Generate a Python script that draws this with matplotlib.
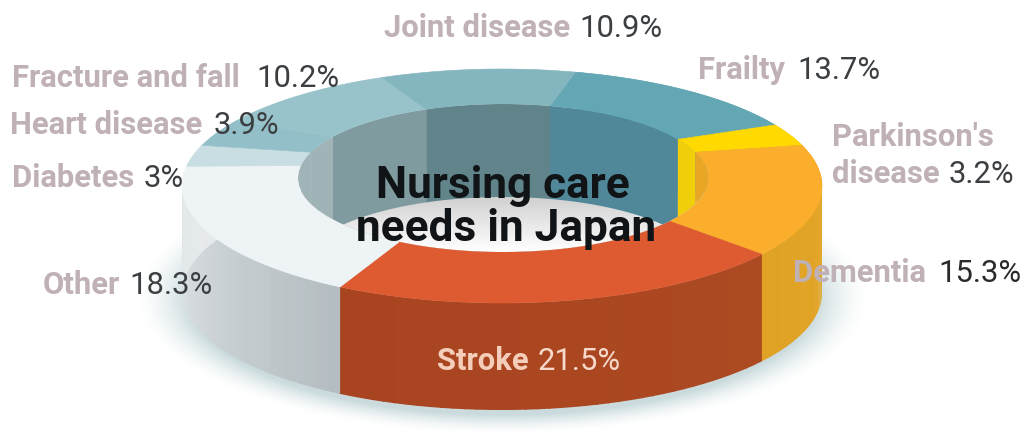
"""Nursing care needs in Japan: a 3D-style ring drawn from the share of each cause."""
import numpy as np
import matplotlib

matplotlib.use("Agg")
import matplotlib.pyplot as plt
from matplotlib.colors import to_rgb
from matplotlib.patches import Ellipse, Polygon

# Clockwise from the top of the ring
causes = ["Frailty", "Parkinson's disease", "Dementia", "Stroke", "Other",
          "Diabetes", "Heart disease", "Fracture and fall", "Joint disease"]
shares = [13.7, 3.2, 15.3, 21.5, 18.3, 3, 3.9, 10.2, 10.9]

top_colors = ["#64A7B4", "#FFD900", "#FAAE2B", "#DE5A30", "#EEF3F5",
              "#C9DEE2", "#93BFC8", "#98C3CB", "#84B6BF"]
side_colors = [("#64A7B4", "#64A7B4"), ("#E8B020", "#E8B020"), ("#E6A82A", "#DFA225"),
               ("#AC4A22", "#A84420"), ("#B4BDC1", "#E6EAEC"), ("#E6EAEC", "#E6EAEC"),
               ("#E6EAEC", "#E6EAEC"), ("#E6EAEC", "#E6EAEC"), ("#E6EAEC", "#E6EAEC")]
wall_colors = ["#50889A", "#F0CE08", "#E9A524", "#C05030", "#A0B3B6",
               "#A0B3B6", "#A0B3B6", "#7F9BA0", "#608489"]

label_name_color = "#BFB1B6"
label_value_color = "#3C3F42"

START_ANGLE = 282.0
CX, CY, RX, RY = 502, 186, 320, 117
HOLE_CX, HOLE_CY, HOLE_RX, HOLE_RY = 503, 178, 205, 74
DEPTH = 107
WALL_DEPTH = 93
FONT = "Roboto"
LABEL_SIZE = 22.3
TITLE_SIZE = 31.8


def view_angle(theta):
    # the near side of the ring opens up a little under the tilted view
    return theta + 2.5 - 6 * np.cos(np.radians(theta))


def arc(cx, cy, rx, ry, a0, a1, n=60):
    t = np.radians(np.linspace(a0, a1, n))
    return np.column_stack([cx + rx * np.cos(t), cy + ry * np.sin(t)])


fig = plt.figure(figsize=(10.26, 4.36), dpi=100)
ax = fig.add_axes([0, 0, 1, 1])
ax.set_xlim(0, 1026)
ax.set_ylim(436, 0)
ax.axis("off")

# soft teal shadow below the ring
yy, xx = np.mgrid[0:436, 0:1026]
dist = np.sqrt(((xx - CX) / (RX + 4)) ** 2 + ((yy - CY - DEPTH - 4) / (RY + 4)) ** 2)
alpha = np.clip((1.13 - dist) / 0.16, 0, 1) ** 1.6 * 0.55
shadow = np.zeros((436, 1026, 4))
shadow[..., :3] = to_rgb("#9FBDC2")
shadow[..., 3] = alpha
ax.imshow(shadow, extent=(0, 1026, 436, 0), zorder=1, aspect="auto")

edges = START_ANGLE + np.concatenate([[0], np.cumsum(shares)]) * 3.6
ends = view_angle(edges)

# outer side, drawn as thin strips so each slice can shade along its length
for i in range(len(shares)):
    a0, a1 = ends[i], ends[i + 1]
    steps = np.linspace(a0, a1, 40)
    c0, c1 = np.array(to_rgb(side_colors[i][0])), np.array(to_rgb(side_colors[i][1]))
    for k in range(len(steps) - 1):
        top = arc(CX, CY, RX, RY, steps[k], steps[k + 1] + 0.3, 4)
        bottom = top[::-1] + [0, DEPTH]
        col = c0 + (c1 - c0) * k / (len(steps) - 2)
        ax.add_patch(Polygon(np.vstack([top, bottom]), fc=col, ec="none", zorder=2))

# top face
for i in range(len(shares)):
    outer = arc(CX, CY, RX, RY, ends[i], ends[i + 1])
    inner = arc(HOLE_CX, HOLE_CY, HOLE_RX, HOLE_RY, ends[i + 1], ends[i])
    ax.add_patch(Polygon(np.vstack([outer, inner]), fc=top_colors[i], ec=top_colors[i],
                         lw=0.4, zorder=3))

# hole: pale floor, then the inner wall of every slice clipped to the opening
hole = Ellipse((HOLE_CX, HOLE_CY), 2 * HOLE_RX, 2 * HOLE_RY, fc="none", ec="none", zorder=4)
ax.add_patch(hole)
floor = np.linspace(0.80, 1.0, 64).reshape(-1, 1)
im = ax.imshow(floor, extent=(HOLE_CX - HOLE_RX, HOLE_CX + HOLE_RX, HOLE_CY + HOLE_RY, HOLE_CY + 14),
               cmap="gray", vmin=0, vmax=1, zorder=4, aspect="auto")
im.set_clip_path(hole)
ax.set_xlim(0, 1026)
ax.set_ylim(436, 0)

for i in range(len(shares)):
    top = arc(HOLE_CX, HOLE_CY, HOLE_RX, HOLE_RY, ends[i], ends[i + 1])
    bottom = top[::-1] + [0, WALL_DEPTH]
    wall = Polygon(np.vstack([top, bottom]), fc=wall_colors[i], ec="none", zorder=5)
    ax.add_patch(wall)
    wall.set_clip_path(hole)


def label(lines, value, x, ys, name_color=label_name_color, value_color=label_value_color, gap=9):
    renderer = fig.canvas.get_renderer()
    for line, y in zip(lines[:-1], ys[:-1]):
        ax.text(x, y, line, color=name_color, fontsize=LABEL_SIZE, fontweight="bold",
                family=FONT, va="baseline", zorder=8)
    name = ax.text(x, ys[-1], lines[-1], color=name_color, fontsize=LABEL_SIZE, fontweight="bold",
                   family=FONT, va="baseline", zorder=8)
    right = name.get_window_extent(renderer).x1
    ax.text(right + gap, ys[-1], value, color=value_color, fontsize=LABEL_SIZE,
            family=FONT, va="baseline", zorder=8)


label(["Joint disease"], f"{shares[8]}%", 384, [37])
label(["Frailty"], f"{shares[0]}%", 698, [79], gap=12)
label(["Fracture and fall"], f"{shares[7]}%", 12, [87], gap=17)
label(["Heart disease"], f"{shares[6]}%", 10, [134], gap=11)
label(["Diabetes"], f"{shares[5]}%", 12, [187])
label(["Other"], f"{shares[4]}%", 43, [294])
label(["Parkinson's", "disease"], f"{shares[1]}%", 832, [146, 183])
label(["Dementia"], f"{shares[2]}%", 793, [282], value_color="#2A2A2A", gap=12)
label(["Stroke"], f"{shares[3]}%", 437, [370], name_color="#F5CDBB", value_color="#F7D9CB")

ax.text(503, 198, "Nursing care", ha="center", va="baseline", fontsize=TITLE_SIZE,
        fontweight="bold", family=FONT, color="#101417", zorder=9)
ax.text(506, 241, "needs in Japan", ha="center", va="baseline", fontsize=TITLE_SIZE,
        fontweight="bold", family=FONT, color="#101417", zorder=9)

fig.savefig("out.png", dpi=100)
